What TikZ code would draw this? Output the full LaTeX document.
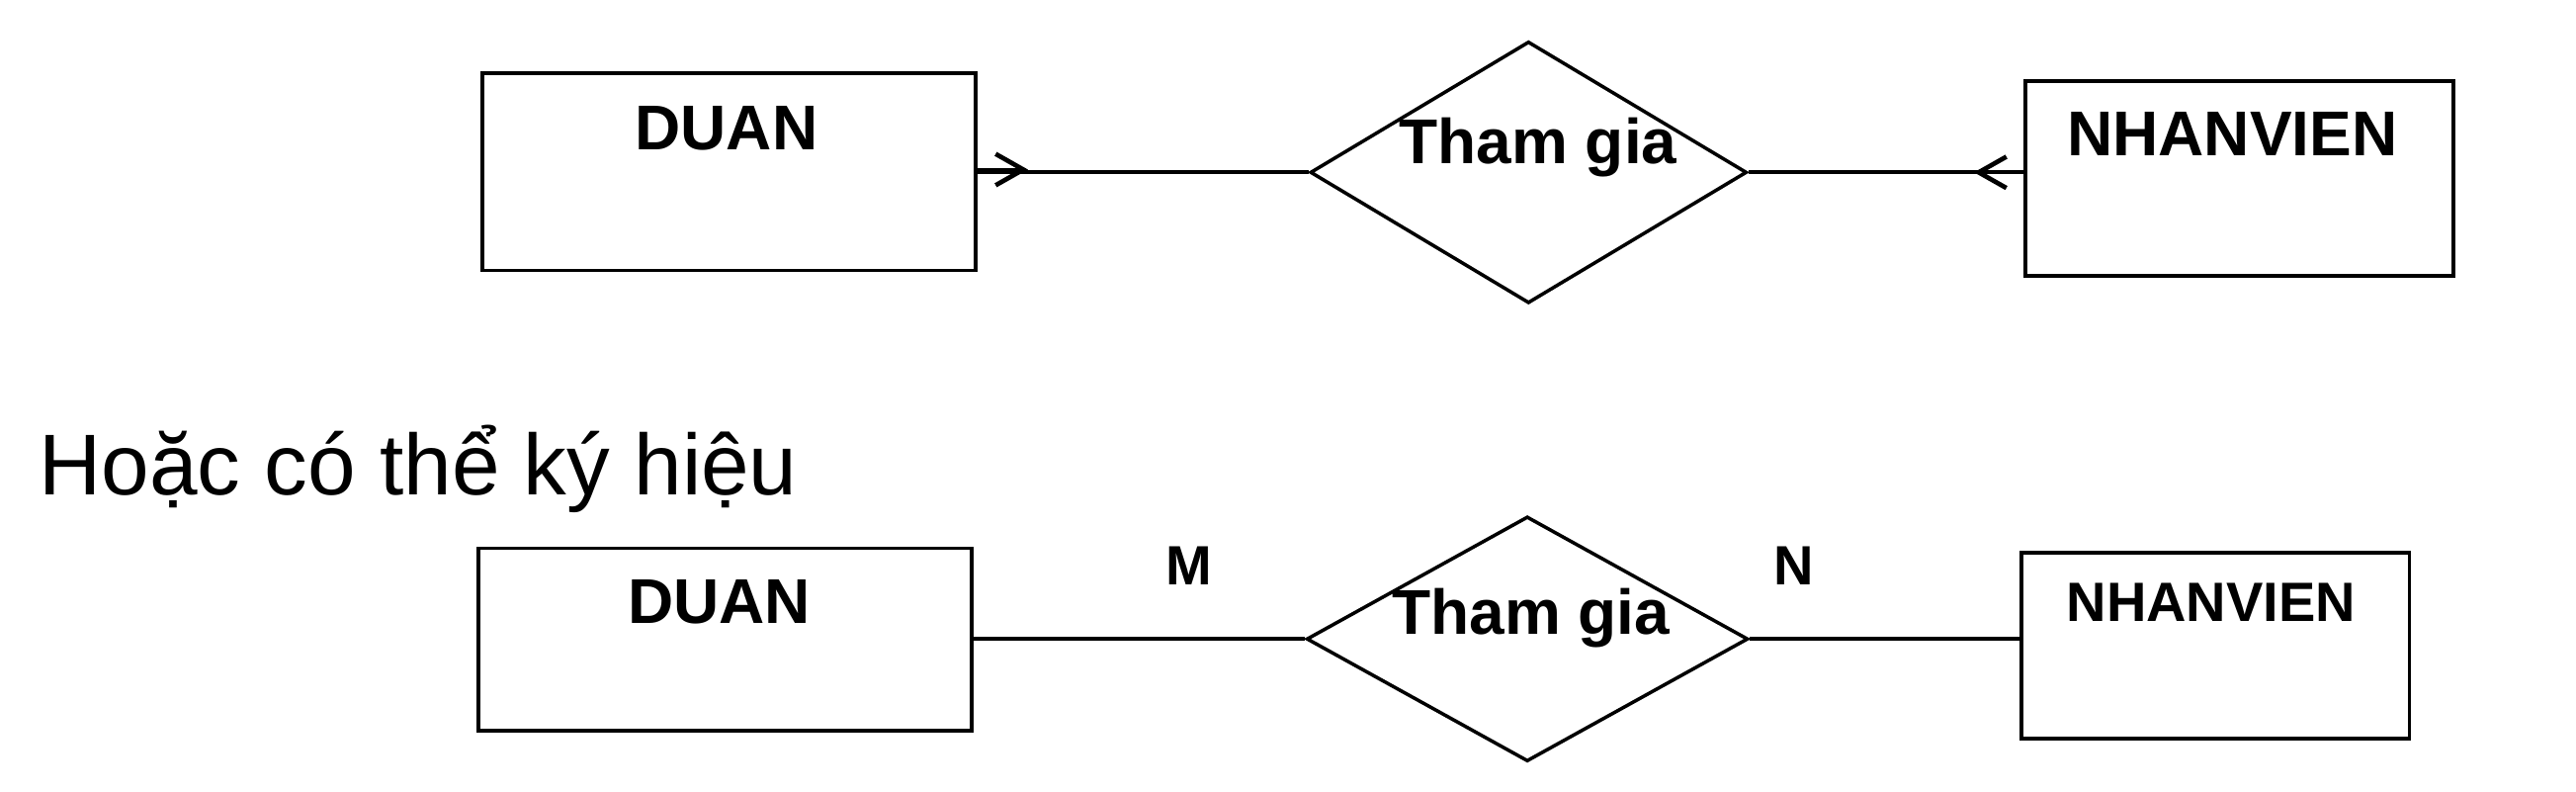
\documentclass[tikz,border=0pt]{standalone}
\usepackage{fontspec}
\setmainfont{Liberation Sans}
\usetikzlibrary{shapes.geometric,arrows.meta}
\tikzset{
  ent/.style={draw,line width=1.1pt,rectangle,inner sep=0pt},
  rel/.style={draw,line width=1.05pt,diamond,inner sep=0pt},
  lbl/.style={inner sep=0pt,anchor=base,font=\bfseries\fontsize{19.2}{23}\selectfont},
  lbls/.style={inner sep=0pt,anchor=base,font=\bfseries\fontsize{16.8}{20}\selectfont},
  conn/.style={line width=1.1pt},
  barb/.style={line width=1.1pt,-{Straight Barb[length=8.4pt,width=9.5pt,line width=1.4pt]}}
}
\begin{document}
\begin{tikzpicture}[x=0.3pt,y=-0.3pt]
\useasboundingbox (0,0) rectangle (2606,800);
% top row
\node[ent,minimum width=149.7pt,minimum height=59.8pt] (duan1) at (737.8,173.7) {};
\node[ent,minimum width=129.9pt,minimum height=59.1pt] (nhan1) at (2265.8,180.5) {};
\node[rel,minimum width=132.5pt,minimum height=79.4pt] (rel1) at (1546.3,174.3) {};
\node[lbl] (tduan1) at (734.9,151.7) {DUAN};
\node[lbl] (tnhan1) at (2258.4,157.7) {NHANVIEN};
\node[lbl] (trel1) at (1556,165.7) {Tham gia};
\draw[conn] (duan1.east |- rel1.west) -- (rel1.west);
\draw[conn] (rel1.east) -- (rel1.east -| nhan1.west);
\coordinate (tipL) at (1040,171.5);
\coordinate (tipR) at (1997,174.3);
\draw[barb] (duan1.east |- tipL) -- (tipL);
\draw[barb] (nhan1.west |- tipR) -- (tipR);
% heading
\node[inner sep=0pt,anchor=base west,font=\fontsize{26.2}{32}\selectfont] (head) at (39,500) {Hoặc có thể ký hiệu};
% bottom row
\node[ent,minimum width=149.8pt,minimum height=55.4pt] (duan2) at (733.65,646.65) {};
\node[ent,minimum width=117.7pt,minimum height=56.4pt] (nhan2) at (2241.15,652.7) {};
\node[rel,minimum width=134pt,minimum height=74.3pt] (rel2) at (1545.1,646.2) {};
\node[lbl] (tduan2) at (727.8,630.7) {DUAN};
\node[lbls] (tnhan2) at (2236.9,628.3) {NHANVIEN};
\node[lbl] (trel2) at (1548.9,641.7) {Tham gia};
\node[lbls] (tm) at (1202.5,591.7) {M};
\node[lbls] (tn) at (1814.7,591.7) {N};
\draw[conn] (duan2.east |- rel2.west) -- (rel2.west);
\draw[conn] (rel2.east) -- (rel2.east -| nhan2.west);
\end{tikzpicture}
\end{document}
